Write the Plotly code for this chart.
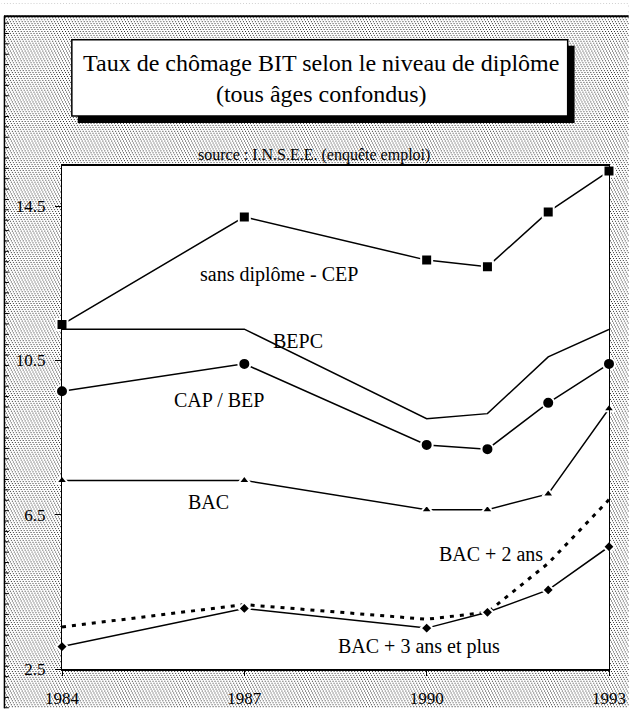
import base64
import struct
import zlib

import plotly.graph_objects as go

# Data (taux de chômage, %)
years = [1984, 1987, 1990, 1991, 1992, 1993]
sans_diplome = [11.43, 14.22, 13.10, 12.93, 14.35, 15.41]
bepc = [11.31, 11.31, 8.99, 9.12, 10.59, 11.30]
cap_bep = [9.70, 10.41, 8.31, 8.20, 9.40, 10.41]
bac = [7.39, 7.39, 6.63, 6.63, 7.04, 9.25]
bac2 = [3.59, 4.17, 3.79, 3.97, 5.24, 6.89]
bac3 = [3.08, 4.07, 3.56, 3.97, 4.55, 5.67]

x_ticks = [1984, 1987, 1990, 1993]
y_ticks = [2.5, 6.5, 10.5, 14.5]

W, H = 638, 720
L, R, T, B = 62, 20, 166, 40
PW, PH = W - L - R, H - T - B
SERIF = "Liberation Serif, Times New Roman, serif"


def px(x):
    return (x - L) / PW


def py(y):
    return (H - B - y) / PH


def stipple_png(w, h):
    """Dotted texture like the scanned background."""
    raw = bytearray()
    for y in range(h):
        raw.append(0)
        for x in range(w):
            dot = y % 2 == 0 and (x + y) % 3 == 0
            raw.append(50 if dot else 255)

    def chunk(tag, data):
        c = struct.pack(">I", len(data)) + tag + data
        return c + struct.pack(">I", zlib.crc32(tag + data) & 0xFFFFFFFF)

    png = b"\x89PNG\r\n\x1a\n"
    png += chunk(b"IHDR", struct.pack(">IIBBBBB", w, h, 8, 0, 0, 0, 0))
    png += chunk(b"IDAT", zlib.compress(bytes(raw), 9))
    png += chunk(b"IEND", b"")
    return "data:image/png;base64," + base64.b64encode(png).decode()


fig = go.Figure()


def add_line(y, name, symbol=None, size=0, dash="solid", width=1.5):
    fig.add_trace(go.Scatter(
        x=years, y=y, name=name,
        mode="lines+markers" if symbol else "lines",
        line=dict(color="black", width=width, dash=dash),
        marker=dict(symbol=symbol or "circle", size=size, color="black",
                    line=dict(color="white", width=2)),
        cliponaxis=False,
    ))


add_line(sans_diplome, "sans diplôme - CEP", "square", 11)
add_line(bepc, "BEPC")
add_line(cap_bep, "CAP / BEP", "circle", 12)
add_line(bac, "BAC", "triangle-up", 10)
add_line(bac2, "BAC + 2 ans", dash="4px,6px", width=3)
add_line(bac3, "BAC + 3 ans et plus", "diamond", 9)

shapes = [
    # white plot area above the texture
    dict(type="rect", xref="paper", yref="paper", x0=0, x1=1, y0=0, y1=1,
         fillcolor="white", line_width=0, layer="below"),
    # white margin strips, scan border
    dict(type="rect", xref="paper", yref="paper", x0=px(0), x1=px(W), y0=py(0), y1=py(12),
         fillcolor="white", line_width=0, layer="above"),
    dict(type="rect", xref="paper", yref="paper", x0=px(0), x1=px(3), y0=py(0), y1=py(H),
         fillcolor="white", line_width=0, layer="above"),
    dict(type="line", xref="paper", yref="paper", x0=px(3), x1=px(W), y0=py(13), y1=py(13),
         line=dict(color="black", width=2)),
    dict(type="line", xref="paper", yref="paper", x0=px(3.5), x1=px(3.5), y0=py(13), y1=py(H),
         line=dict(color="black", width=1.5)),
    # title box shadow + box
    dict(type="rect", xref="paper", yref="paper", x0=px(78), x1=px(583), y0=py(122), y1=py(43),
         fillcolor="black", line_width=0),
    dict(type="rect", xref="paper", yref="paper", x0=px(72), x1=px(576), y0=py(115), y1=py(37),
         fillcolor="white", line=dict(color="black", width=1.5)),
]
# ruler marks on the left border
yy = 20.0
while yy < H:
    shapes.append(dict(type="line", xref="paper", yref="paper", x0=px(3), x1=px(8),
                       y0=py(yy), y1=py(yy), line=dict(color="black", width=1)))
    yy += 10.6

annotations = [
    dict(text="Taux de chômage BIT selon le niveau de diplôme<br>(tous âges confondus)",
         x=px(325), y=py(77), font=dict(size=24, family=SERIF, color="black")),
    dict(text="source : I.N.S.E.E. (enquête emploi)", x=px(318), y=py(155),
         font=dict(size=16, family=SERIF, color="black")),
    dict(text="sans diplôme - CEP", x=px(283), y=py(277)),
    dict(text="BEPC", x=px(302), y=py(345)),
    dict(text="CAP / BEP", x=px(222), y=py(405)),
    dict(text="BAC", x=px(211), y=py(509)),
    dict(text="BAC + 2 ans", x=px(498), y=py(562)),
    dict(text="BAC + 3 ans et plus", x=px(425), y=py(657)),
]
for a in annotations:
    a.update(xref="paper", yref="paper", showarrow=False, xanchor="center", yanchor="middle")
    a.setdefault("font", dict(size=20, family=SERIF, color="black"))

fig.update_layout(
    width=W, height=H,
    margin=dict(l=L, r=R, t=T, b=B),
    paper_bgcolor="white", plot_bgcolor="white",
    showlegend=False,
    shapes=shapes, annotations=annotations,
    images=[dict(source=stipple_png(W, H), xref="paper", yref="paper",
                 x=px(0), y=py(0), sizex=W / PW, sizey=H / PH,
                 xanchor="left", yanchor="top", sizing="stretch", layer="below")],
    font=dict(family=SERIF, color="black"),
)
fig.update_xaxes(range=[1984, 1993], tickvals=x_ticks, ticktext=[str(v) for v in x_ticks],
                 showgrid=False, zeroline=False, showline=True, linecolor="black",
                 linewidth=2, mirror=True, ticks="outside", ticklen=5, tickcolor="black",
                 ticklabelstandoff=8, tickfont=dict(size=17, family=SERIF))
fig.update_yaxes(range=[2.5, 15.54], tickvals=y_ticks, ticktext=[str(v) for v in y_ticks],
                 showgrid=False, zeroline=False, showline=True, linecolor="black",
                 linewidth=1, mirror=True, ticks="outside", ticklen=6, tickcolor="black",
                 ticklabelstandoff=6, tickfont=dict(size=17, family=SERIF))

# drop the default page margin so the figure sits at the window origin
page_fix = ("document.documentElement.style.overflow='hidden';"
            "document.body.style.overflow='hidden';"
            "document.body.style.margin='0';")
fig.write_html("out.html", config={"displayModeBar": False}, post_script=page_fix)
